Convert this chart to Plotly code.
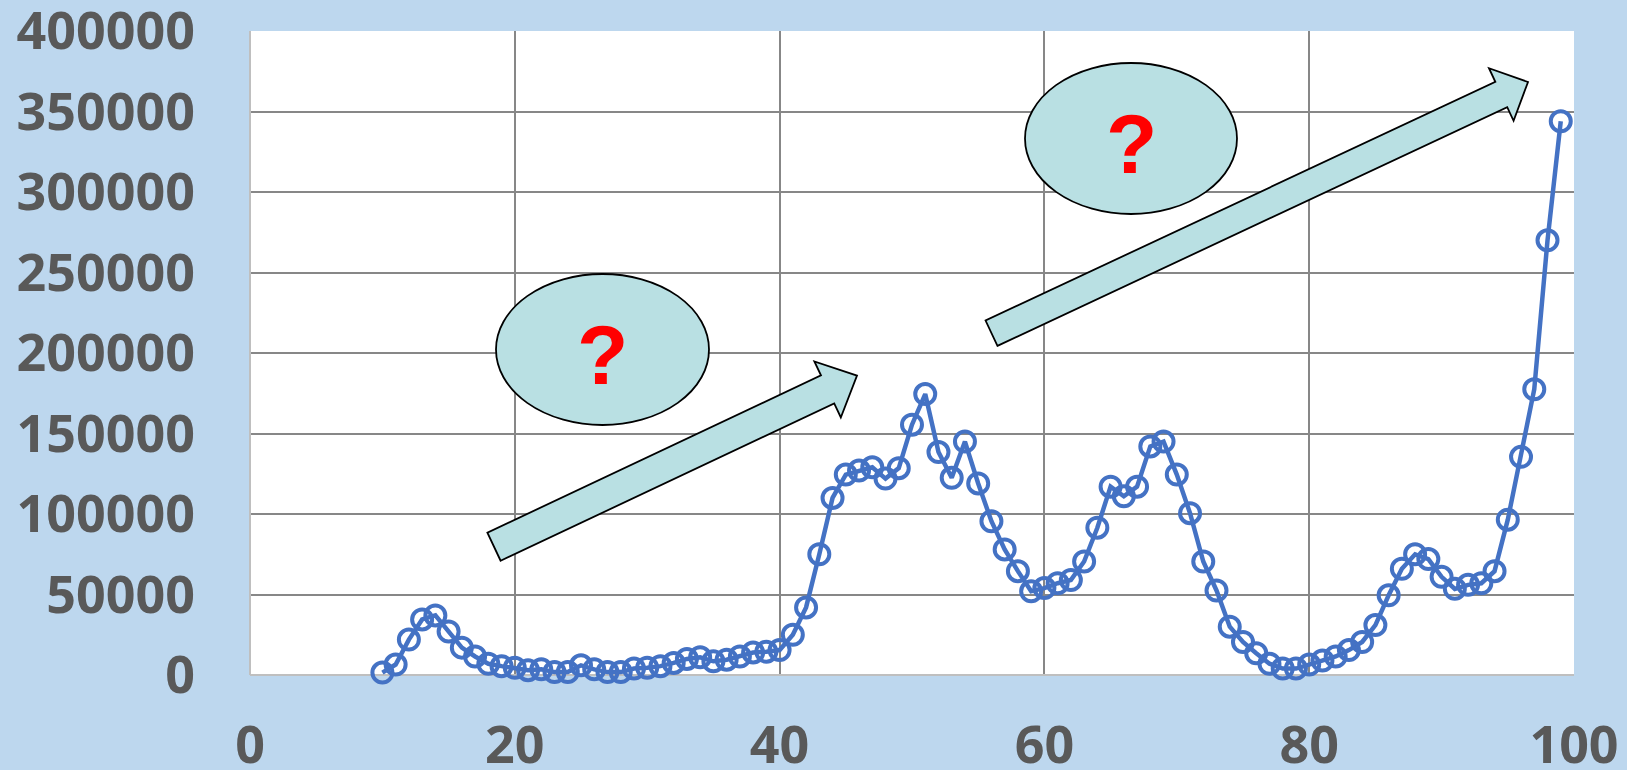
import plotly.graph_objects as go

# Daily counts, day 10 .. day 99
days = list(range(10, 100))
counts = [
    1500, 6500, 22000, 34500, 37000, 27000, 17000, 11500, 7000, 5500,
    4500, 3000, 3500, 1800, 1800, 6000, 3500, 1800, 1800, 4000,
    4500, 5500, 7500, 10000, 11000, 8500, 9500, 11500, 14000, 14500,
    15500, 25000, 42000, 75000, 110000, 124500, 127000, 129000, 122000, 128500,
    155500, 174500, 138500, 122500, 145000, 119000, 95500, 78000, 64500, 52000,
    54000, 57000, 59000, 70500, 91500, 117000, 111000, 117000, 142000, 145000,
    124500, 100500, 70500, 52500, 30000, 20500, 13500, 7000, 4000, 4000,
    6500, 9000, 11500, 15500, 20500, 31000, 49500, 66000, 75000, 72000,
    61000, 53500, 56000, 57000, 64500, 96500, 135500, 177500, 270000, 344000,
]

x_ticks = [0, 20, 40, 60, 80, 100]
y_ticks = [0, 50000, 100000, 150000, 200000, 250000, 300000, 350000, 400000]

W, H = 1627, 770
L, R, T, B = 250, 53, 31, 95
PW, PH = W - L - R, H - T - B


def px_to_paper(px, py):
    return (px - L) / PW, (H - B - py) / PH


def block_arrow(tail, tip, shaft_half, head_half, head_len):
    (tx, ty), (hx, hy) = tail, tip
    dx, dy = hx - tx, hy - ty
    length = (dx * dx + dy * dy) ** 0.5
    ux, uy = dx / length, dy / length
    nx, ny = -uy, ux
    nk = length - head_len
    pts = [
        (tx + nx * shaft_half, ty + ny * shaft_half),
        (tx + ux * nk + nx * shaft_half, ty + uy * nk + ny * shaft_half),
        (tx + ux * nk + nx * head_half, ty + uy * nk + ny * head_half),
        (hx, hy),
        (tx + ux * nk - nx * head_half, ty + uy * nk - ny * head_half),
        (tx + ux * nk - nx * shaft_half, ty + uy * nk - ny * shaft_half),
        (tx - nx * shaft_half, ty - ny * shaft_half),
    ]
    parts = []
    for i, (px, py) in enumerate(pts):
        a, b = px_to_paper(px, py)
        parts.append(("M" if i == 0 else "L") + f"{a:.5f},{b:.5f}")
    return " ".join(parts) + " Z"


TEAL = "#B9E0E3"

fig = go.Figure()
fig.add_trace(go.Scatter(
    x=days, y=counts,
    mode="lines+markers",
    line=dict(color="#4472C4", width=4.5),
    marker=dict(symbol="circle-open", size=20, color="#4472C4",
                line=dict(width=4, color="#4472C4")),
    cliponaxis=False,
    showlegend=False,
))

shapes = []
for tail, tip, sh, hh, hl in [
    ((494, 546.7), (857, 375.6), 15.5, 31, 32.5),
    ((991.5, 333.2), (1528, 82), 14, 29, 29.5),
]:
    shapes.append(dict(type="path", xref="paper", yref="paper",
                       path=block_arrow(tail, tip, sh, hh, hl),
                       fillcolor=TEAL, line=dict(color="black", width=1.8),
                       layer="above"))

annotations = []
for (x0, y0, x1, y1) in [(496, 274, 709, 425), (1025, 63, 1237, 214)]:
    a0, b0 = px_to_paper(x0, y1)
    a1, b1 = px_to_paper(x1, y0)
    shapes.append(dict(type="circle", xref="paper", yref="paper",
                       x0=a0, y0=b0, x1=a1, y1=b1,
                       fillcolor=TEAL, line=dict(color="black", width=1.8),
                       layer="above"))
    cx, cy = px_to_paper((x0 + x1) / 2, (y0 + y1) / 2 + 6)
    annotations.append(dict(x=cx, y=cy, xref="paper", yref="paper",
                            xanchor="center", yanchor="middle",
                            text="?", showarrow=False,
                            font=dict(family="Liberation Sans", size=84,
                                      color="#FF0000", weight="bold")))

tick_font = dict(family="Open Sans", size=52, color="#595959", weight="bold")

fig.update_layout(
    width=W, height=H,
    margin=dict(l=L, r=R, t=T, b=B, autoexpand=False),
    paper_bgcolor="#BDD7EE",
    plot_bgcolor="white",
    shapes=shapes,
    annotations=annotations,
    xaxis=dict(range=[0, 100.001], tickvals=x_ticks, ticktext=[str(v) for v in x_ticks],
               showgrid=True, gridcolor="#878787", gridwidth=2,
               zeroline=True, zerolinecolor="#BFBFBF", zerolinewidth=2,
               showline=False, ticks="", tickfont=tick_font,
               ticklabelstandoff=35, ticklabeloverflow="allow",
               automargin=False, fixedrange=True),
    yaxis=dict(range=[0, 400040], tickvals=y_ticks, ticktext=[str(v) for v in y_ticks],
               showgrid=True, gridcolor="#878787", gridwidth=2,
               zeroline=True, zerolinecolor="#BFBFBF", zerolinewidth=2,
               showline=False, ticks="", tickfont=tick_font,
               ticklabelstandoff=54, ticklabeloverflow="allow",
               automargin=False, fixedrange=True),
)

fig.write_html("out.html")
